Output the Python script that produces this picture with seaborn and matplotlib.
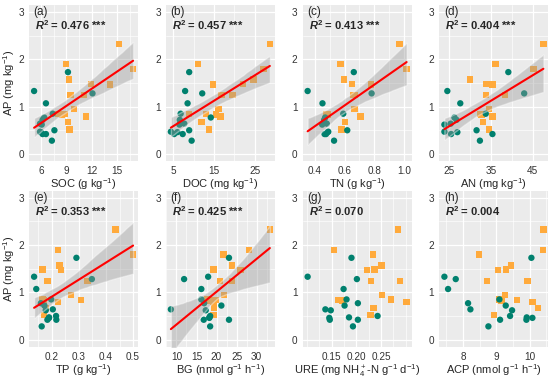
import pandas as pd
import seaborn as sns
import matplotlib.pyplot as plt
import matplotlib.transforms as mtransforms
from matplotlib.ticker import MultipleLocator, FixedLocator

# AP values shared by all panels (same samples)
ap_green = [1.33, 1.73, 1.07, 1.28, 0.85, 0.77, 0.72, 0.64, 0.62, 0.50, 0.47, 0.46, 0.42, 0.42, 0.28]
ap_orange = [2.33, 1.90, 1.80, 1.57, 1.48, 1.47, 1.24, 1.24, 0.95, 0.85, 0.84, 0.83, 0.79, 0.67, 0.52]

soc_green = [5.2, 9.2, 6.6, 12.1, 7.4, 6.4, 6.2, 5.9, 6.1, 7.6, 5.9, 6.0, 6.2, 6.6, 7.3]
soc_orange = [15.2, 9.0, 16.9, 9.3, 11.9, 14.2, 11.1, 9.5, 9.9, 8.8, 8.1, 8.5, 11.3, 9.2, 9.4]
doc_green = [7.9, 8.9, 8.5, 12.1, 6.8, 14.2, 6.6, 7.7, 6.5, 8.9, 4.4, 6.0, 5.2, 7.3, 9.5]
doc_orange = [28.7, 11.0, 27.1, 24.7, 22.1, 14.8, 19.5, 16.8, 16.1, 8.9, 13.1, 15.5, 16.6, 11.9, 13.8]
tn_green = [0.351, 0.662, 0.451, 0.782, 0.591, 0.469, 0.462, 0.48, 0.449, 0.618, 0.49, 0.485, 0.465, 0.475, 0.529]
tn_orange = [0.969, 0.573, 1.018, 0.596, 0.649, 0.778, 0.658, 0.67, 0.667, 0.484, 0.475, 0.49, 0.707, 0.604, 0.578]
an_green = [24.6, 39.2, 27.7, 43.0, 33.8, 26.3, 26.8, 25.4, 23.9, 31.6, 23.9, 27.0, 25.5, 35.4, 32.4]
an_orange = [47.6, 36.1, 45.2, 30.0, 33.9, 35.4, 38.4, 33.9, 34.6, 32.4, 33.1, 32.8, 35.4, 33.1, 34.6]
tp_green = [0.135, 0.291, 0.143, 0.348, 0.198, 0.16, 0.173, 0.204, 0.178, 0.216, 0.19, 0.19, 0.184, 0.217, 0.163]
tp_orange = [0.435, 0.222, 0.50, 0.229, 0.166, 0.235, 0.185, 0.332, 0.271, 0.166, 0.309, 0.17, 0.222, 0.18, 0.171]
bg_green = [17.9, 23.1, 16.2, 11.9, 16.2, 16.9, 21.2, 8.6, 17.3, 18.4, 18.2, 18.2, 16.8, 23.1, 18.4]
bg_orange = [33.3, 28.1, 21.7, 23.9, 19.2, 26.0, 20.9, 23.8, 21.8, 17.7, 19.8, 18.5, 19.2, 19.3, 19.2]
ure_green = [0.101, 0.19, 0.174, 0.201, 0.18, 0.203, 0.176, 0.137, 0.148, 0.243, 0.185, 0.145, 0.146, 0.203, 0.193]
ure_orange = [0.285, 0.155, 0.234, 0.251, 0.237, 0.222, 0.288, 0.230, 0.252, 0.27, 0.164, 0.172, 0.302, 0.235, 0.229]
acp_green = [7.44, 10.05, 7.55, 7.78, 9.09, 8.15, 9.28, 8.22, 9.47, 9.41, 9.91, 10.08, 9.9, 9.11, 8.76]
acp_orange = [10.41, 10.40, 8.48, 9.43, 9.29, 9.04, 8.71, 9.93, 9.26, 9.09, 9.61, 9.15, 10.08, 10.24, 8.92]

letters = ['(a)', '(b)', '(c)', '(d)', '(e)', '(f)', '(g)', '(h)']
xlabels = ['SOC (g kg$^{-1}$)', 'DOC (mg kg$^{-1}$)', 'TN (g kg$^{-1}$)', 'AN (mg kg$^{-1}$)',
           'TP (g kg$^{-1}$)', 'BG (nmol g$^{-1}$ h$^{-1}$)',
           'URE (mg NH$_4^+$-N g$^{-1}$ d$^{-1}$)', 'ACP (nmol g$^{-1}$ h$^{-1}$)']
r2_labels = ['0.476 ***', '0.457 ***', '0.413 ***', '0.404 ***', '0.353 ***', '0.425 ***', '0.070', '0.004']
xticks = [[6, 9, 12, 15], [5, 15, 25], [0.4, 0.6, 0.8, 1.0], [25, 35, 45],
          [0.2, 0.3, 0.4, 0.5], [10, 15, 20, 25, 30], [0.15, 0.20, 0.25], [8, 9, 10]]
xtick_labels = [['6', '9', '12', '15'], ['5', '15', '25'], ['0.4', '0.6', '0.8', '1.0'], ['25', '35', '45'],
                ['0.2', '0.3', '0.4', '0.5'], ['10', '15', '20', '25', '30'], ['0.15', '0.20', '0.25'], ['8', '9', '10']]
green_x = [soc_green, doc_green, tn_green, an_green, tp_green, bg_green, ure_green, acp_green]
orange_x = [soc_orange, doc_orange, tn_orange, an_orange, tp_orange, bg_orange, ure_orange, acp_orange]
with_fit = [True, True, True, True, True, True, False, False]

sns.set_style('darkgrid', {'axes.facecolor': '#EBEBEB', 'grid.color': 'white'})
plt.rcParams['font.family'] = ['Liberation Sans', 'DejaVu Sans']
plt.rcParams['mathtext.fontset'] = 'custom'
plt.rcParams['mathtext.rm'] = 'Liberation Sans'
plt.rcParams['mathtext.it'] = 'Liberation Sans:italic'
plt.rcParams['mathtext.bf'] = 'Liberation Sans:bold'
plt.rcParams['mathtext.bfit'] = 'Liberation Sans:italic:bold'

fig, axes = plt.subplots(2, 4, figsize=(5.5, 3.81), dpi=100)
fig.subplots_adjust(left=0.053, right=0.997, top=0.987, bottom=0.09, wspace=0.256, hspace=0.19)

for i, ax in enumerate(axes.flat):
    df = pd.DataFrame({
        'x': orange_x[i] + green_x[i],
        'AP': ap_orange + ap_green,
        'group': ['orange'] * len(ap_orange) + ['green'] * len(ap_green),
    })
    sns.scatterplot(data=df, x='x', y='AP', hue='group', style='group',
                    palette={'green': '#00806E', 'orange': '#FFAA3C'},
                    markers={'green': 'o', 'orange': 's'},
                    s=21, linewidth=0, legend=False, ax=ax, zorder=3)
    if with_fit[i]:
        sns.regplot(data=df, x='x', y='AP', scatter=False, ci=95, seed=1, color='#999999',
                    line_kws={'color': 'red', 'lw': 1.5, 'zorder': 5}, ax=ax)
        band = ax.collections[-1]
        band.set_facecolor('#999999')
        band.set_alpha(0.4)
        band.set_zorder(4)

    ax.set_ylim(-0.15, 3.15)
    ax.yaxis.set_major_locator(FixedLocator([0, 1, 2, 3]))
    ax.set_yticklabels(['0', '1', '2', '3'])
    ax.yaxis.set_minor_locator(MultipleLocator(0.5))
    ax.xaxis.set_major_locator(FixedLocator(xticks[i]))
    ax.set_xticklabels(xtick_labels[i])
    step = xticks[i][1] - xticks[i][0]
    ax.xaxis.set_minor_locator(MultipleLocator(step / 2))
    ax.grid(which='major', color='white', lw=0.9)
    ax.grid(which='minor', color='white', lw=0.45)
    ax.tick_params(which='major', length=2.5, width=0.6, color='#333333',
                   labelsize=7.2, labelcolor='#333333', pad=1.2)
    ax.tick_params(which='minor', length=0)
    for sp in ax.spines.values():
        sp.set_visible(False)

    ax.set_xlabel(xlabels[i], fontsize=8, labelpad=0.3)
    if i % 4 == 0:
        ax.set_ylabel('AP (mg kg$^{-1}$)', fontsize=8, labelpad=1)
    else:
        ax.set_ylabel('')

    trans = mtransforms.blended_transform_factory(ax.transAxes, ax.transData)
    ax.text(0.04, 3.0, letters[i], transform=trans, fontsize=8.5, va='center', ha='left')
    ax.text(0.055, 2.72, r'$\mathbfit{R}^{\mathbf{2}}$ = ' + r2_labels[i], transform=trans,
            fontsize=8, fontweight='bold', va='center', ha='left')

fig.savefig('out.png', dpi=100)
